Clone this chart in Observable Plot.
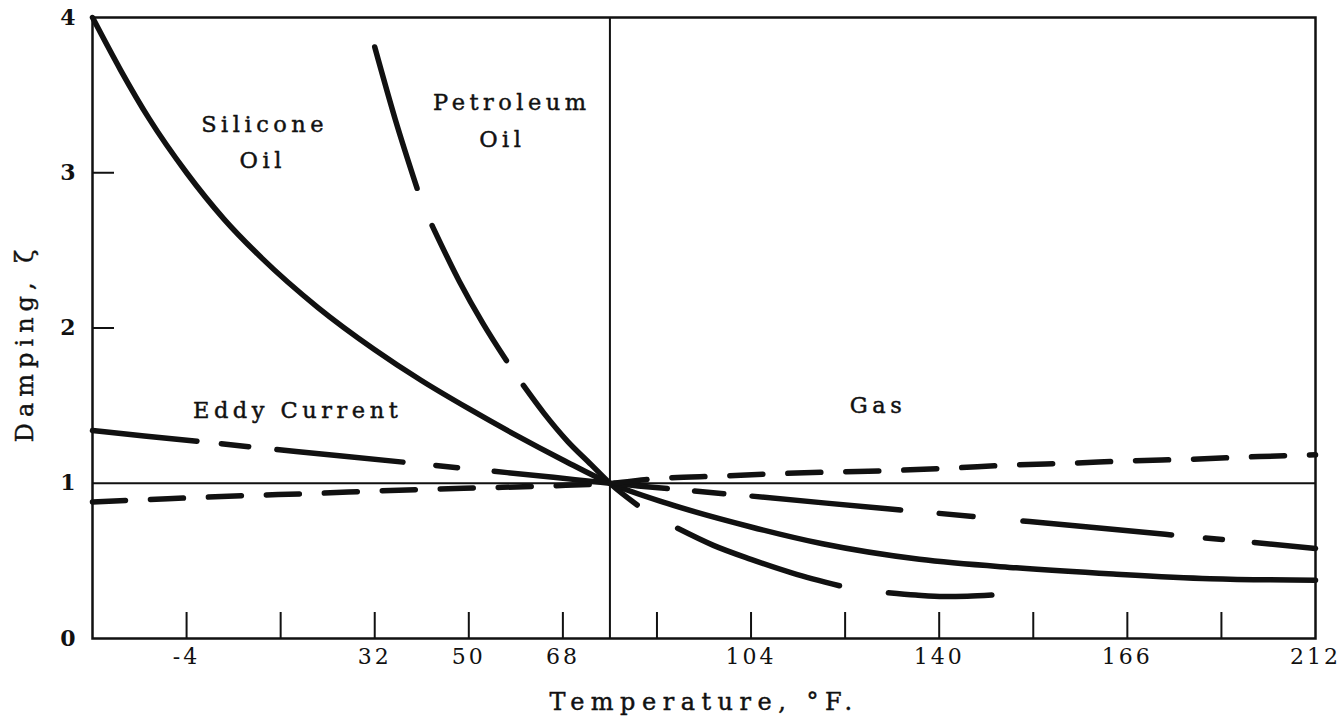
<!DOCTYPE html>
<html>
<head>
<meta charset="utf-8">
<script src="https://cdn.jsdelivr.net/npm/d3@7"></script>
<script src="https://cdn.jsdelivr.net/npm/@observablehq/plot@0.6"></script>
<style>
  html, body { margin: 0; padding: 0; background: #fff; }
</style>
</head>
<body>
<div id="chart"></div>
<script>
// The temperature axis is evenly spaced in °C (x values below are °C),
// and labelled in °F as in the original figure.
const xTickMarks   = [-20, -10, 0, 10, 20, 30, 40, 50, 60, 70, 80, 90];
const xLabelTemps  = [-20, 0, 10, 20, 40, 60, 80, 100];
const xLabelTexts  = ["-4", "32", "50", "68", "104", "140", "166", "212"];
const yTickLabels  = [0, 1, 2, 3, 4];
const yTickMarks   = [2, 3];
const referenceTemp = 25;
const referenceDamping = 1;

// [temperature °C, damping ζ]
const siliconeOil = [
  [-30, 4.0], [-27, 3.66], [-24, 3.35], [-20, 3.0], [-16, 2.7], [-12, 2.45],
  [-6, 2.13], [0, 1.86], [5, 1.66], [10, 1.48], [15, 1.31], [20, 1.15], [25, 1.0],
  [31.1, 0.87], [39.9, 0.72], [47.6, 0.61], [57.9, 0.51], [68.2, 0.455],
  [78.5, 0.415], [88.8, 0.385], [100, 0.375]
];

// long-dash pieces
const petroleumOil = [
  [[0, 3.81], [2.2, 3.34], [4.5, 2.9]],
  [[6.1, 2.66], [9, 2.3], [11.5, 2.03], [14, 1.79]],
  [[15.8, 1.63], [18, 1.45], [20.5, 1.27], [23, 1.12], [25, 1.0], [27.9, 0.86]],
  [[32.2, 0.71], [36, 0.6], [40, 0.51], [44.5, 0.42], [49.4, 0.34]],
  [[54.6, 0.295], [57.5, 0.28], [60.5, 0.27], [63, 0.272], [65.6, 0.28]]
];

// long/short dash pieces
const eddyCurrent = [
  [[-30, 1.34], [-24.5, 1.305], [-18.9, 1.27]],
  [[-16.3, 1.255], [-13.4, 1.235]],
  [[-10.4, 1.217], [-3.5, 1.175], [3, 1.136]],
  [[6.5, 1.115], [8.8, 1.1]],
  [[12.7, 1.077], [19, 1.038], [25, 1.0], [28, 0.983], [31.1, 0.966]],
  [[34, 0.95], [37.1, 0.933]],
  [[40.1, 0.917], [48, 0.872], [55.9, 0.828]],
  [[60, 0.806], [63.6, 0.786]],
  [[68.9, 0.757], [77, 0.712], [84.7, 0.667]],
  [[88.3, 0.648], [90.1, 0.638]],
  [[93.5, 0.618], [100, 0.58]]
];

const gas = [
  [-30, 0.88], [-22, 0.9], [-14, 0.92], [-6, 0.935], [0, 0.95], [6, 0.962],
  [13, 0.973], [19, 0.984], [25, 1.0], [30, 1.03], [37, 1.047], [42, 1.06],
  [49, 1.073], [55, 1.082], [61, 1.097], [68, 1.118], [74, 1.129], [80, 1.144],
  [87, 1.155], [94, 1.172], [100, 1.183]
];

const curveLabels = [
  {text: "Silicone", t: -11.7, d: 3.31, anchor: "middle"},
  {text: "Oil", t: -11.9, d: 3.08, anchor: "middle"},
  {text: "Petroleum", t: 6.2, d: 3.45, anchor: "start"},
  {text: "Oil", t: 11.1, d: 3.21, anchor: "start"},
  {text: "Eddy Current", t: -8.2, d: 1.465, anchor: "middle"},
  {text: "Gas", t: 53.5, d: 1.50, anchor: "middle"}
];

const xTitle = "Temperature, °F.";
const yTitle = "Damping, ζ";

// ---- build tables ----
const toRows = (name, pieces) =>
  pieces.flatMap((p, k) => p.map(([t, d]) => ({series: name, piece: name + k, t, d})));
const siliconeRows = toRows("silicone", [siliconeOil]);
const petroleumRows = toRows("petroleum", petroleumOil);
const eddyRows = toRows("eddy", eddyCurrent);
const gasRows = toRows("gas", [gas]);

const ink = "#111";
const curveW = 5.5;
const textHalo = {stroke: ink, strokeWidth: 0.45};

const chart = Plot.plot({
  width: 1344,
  height: 726,
  marginLeft: 92,
  marginRight: 29,
  marginTop: 17,
  marginBottom: 88,
  style: {fontFamily: "'DejaVu Serif', serif", background: "#fff", color: ink},
  x: {domain: [-30, 100]},
  y: {domain: [0, 4]},
  marks: [
    Plot.frame({stroke: ink, strokeWidth: 2.5}),
    Plot.ruleY([referenceDamping], {stroke: ink, strokeWidth: 2}),
    Plot.ruleX([referenceTemp], {stroke: ink, strokeWidth: 2}),
    Plot.ruleX(xTickMarks, {x: d => d, y1: 0, y2: 0, insetTop: -26, stroke: ink, strokeWidth: 2}),
    Plot.ruleY(yTickMarks, {y: d => d, x1: -30, x2: -30, insetRight: -22, stroke: ink, strokeWidth: 2}),
    Plot.line(siliconeRows, {x: "t", y: "d", z: "piece", stroke: ink, strokeWidth: curveW,
      curve: "monotone-x", strokeLinecap: "round"}),
    Plot.line(petroleumRows, {x: "t", y: "d", z: "piece", stroke: ink, strokeWidth: curveW,
      curve: "monotone-x", strokeLinecap: "round"}),
    Plot.line(eddyRows, {x: "t", y: "d", z: "piece", stroke: ink, strokeWidth: curveW,
      curve: "monotone-x", strokeLinecap: "round"}),
    Plot.line(gasRows, {x: "t", y: "d", z: "piece", stroke: ink, strokeWidth: curveW,
      curve: "monotone-x", strokeLinecap: "round", strokeDasharray: "33,25"}),
    Plot.axisX(xLabelTemps, {tickSize: 0, tickPadding: 10, fontSize: 22, label: null,
      tickFormat: d => xLabelTexts[xLabelTemps.indexOf(d)]}),
    Plot.axisY(yTickLabels, {tickSize: 0, tickPadding: 14, fontSize: 22, fontWeight: "bold", label: null,
      tickFormat: d => String(d)}),
    Plot.text(curveLabels, {x: "t", y: "d", text: "text", textAnchor: "start",
      filter: d => d.anchor === "start", fontSize: 22.5, fill: ink, ...textHalo}),
    Plot.text(curveLabels, {x: "t", y: "d", text: "text", textAnchor: "middle",
      filter: d => d.anchor === "middle", fontSize: 22.5, fill: ink, ...textHalo}),
    Plot.text([xTitle], {text: d => d, frameAnchor: "bottom", dy: 64, lineAnchor: "middle",
      textAnchor: "middle", fontSize: 24, fill: ink, ...textHalo}),
    Plot.text([yTitle], {text: d => d, frameAnchor: "left", dx: -67, dy: 15, rotate: -90,
      lineAnchor: "middle", textAnchor: "middle", fontSize: 24, fill: ink, ...textHalo})
  ]
});

// typewriter-like letter spacing
const labelSet = new Set(curveLabels.map(d => d.text));
d3.select(chart).selectAll("text").each(function () {
  const s = this.textContent;
  let ls = "3px";
  if (s === xTitle) ls = "6.5px";
  else if (s === yTitle) ls = "6px";
  else if (labelSet.has(s)) ls = "4.5px";
  this.style.letterSpacing = ls;
});

document.getElementById("chart").appendChild(chart);
</script>
</body>
</html>
